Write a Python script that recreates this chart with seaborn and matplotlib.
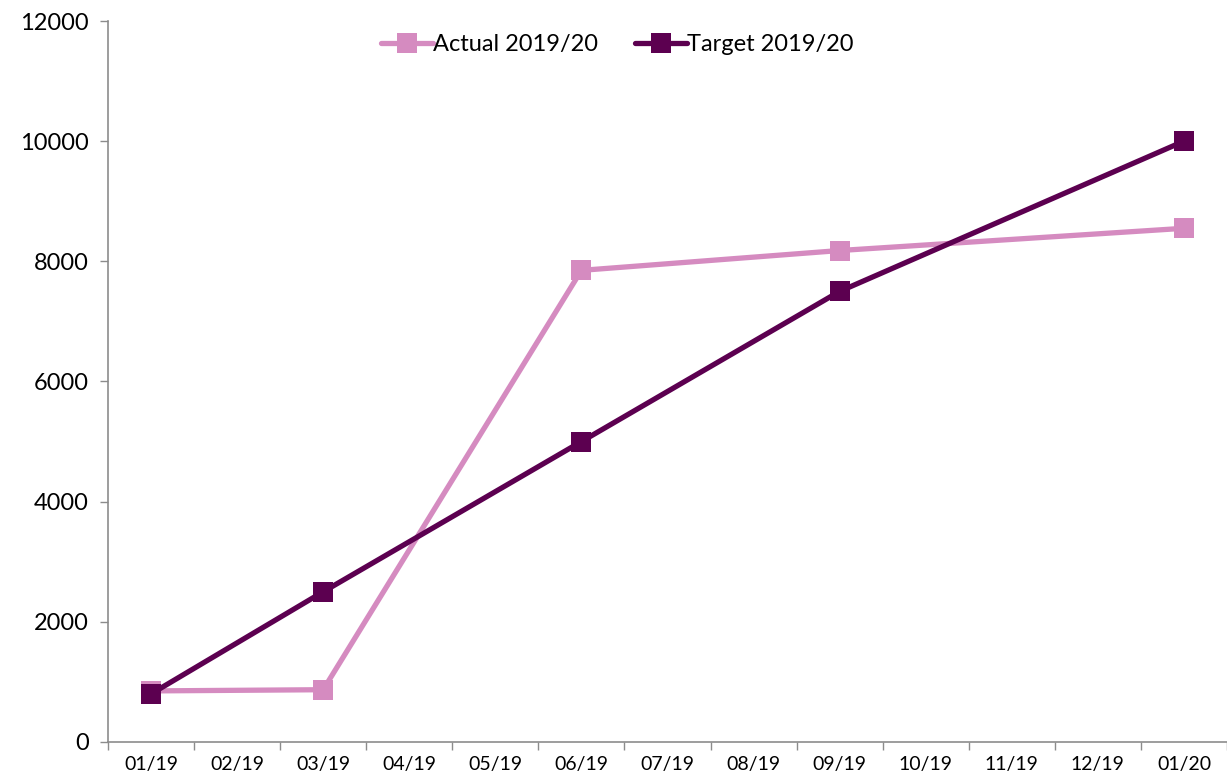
import numpy as np
import pandas as pd
import seaborn as sns
import matplotlib.pyplot as plt

months = ["01/19", "02/19", "03/19", "04/19", "05/19", "06/19", "07/19",
          "08/19", "09/19", "10/19", "11/19", "12/19", "01/20"]
data_months = ["01/19", "03/19", "06/19", "09/19", "01/20"]
actual = [850, 870, 7850, 8180, 8550]
target = [800, 2500, 5000, 7500, 10000]
series = ["Actual 2019/20", "Target 2019/20"]
colors = ["#D58BC0", "#5C0050"]

pos = [months.index(m) for m in data_months]
df = pd.DataFrame({
    "pos": pos * 2,
    "value": actual + target,
    "series": [series[0]] * len(actual) + [series[1]] * len(target),
})

sns.set_style("white")
plt.rcParams["font.family"] = ["Lato", "DejaVu Sans"]
plt.rcParams["text.color"] = "black"
plt.rcParams["xtick.labelcolor"] = "black"
plt.rcParams["ytick.labelcolor"] = "black"

fig = plt.figure(figsize=(12.27, 7.84), dpi=100)
ax = fig.add_axes([0.088, 0.0536, 0.912, 0.9196])

sns.lineplot(data=df, x="pos", y="value", hue="series", palette=colors,
             marker="s", markersize=14, markeredgewidth=0, linewidth=3.8,
             ax=ax, legend=False)

ax.set_xlim(-0.5, len(months) - 0.5)
ax.set_ylim(0, 12000)
ax.set_yticks(np.arange(0, 12001, 2000))
ax.tick_params(axis="y", labelsize=17, length=6, width=1, color="#8c8c8c",
               labelcolor="black", direction="out", left=True, pad=8)

# category-style x axis: ticks between categories, labels centred
ax.set_xticks(np.arange(-0.5, len(months), 1.0))
ax.set_xticklabels([])
ax.set_xticks(np.arange(len(months)), minor=True)
ax.set_xticklabels(months, minor=True)
ax.tick_params(axis="x", which="major", length=6, width=1, color="#8c8c8c",
               direction="out", bottom=True)
ax.tick_params(axis="x", which="minor", length=0, labelsize=14, pad=10,
               labelcolor="black")

for s in ["top", "right"]:
    ax.spines[s].set_visible(False)
for s in ["left", "bottom"]:
    ax.spines[s].set_color("#8c8c8c")
    ax.spines[s].set_linewidth(1.2)
ax.set_xlabel("")
ax.set_ylabel("")
ax.grid(False)

handles = [plt.Line2D([], [], color=c, marker="s", markersize=14,
                      markeredgewidth=0, linewidth=3.8) for c in colors]
fig.legend(handles, series, loc="center", bbox_to_anchor=(0.503, 0.943),
           ncol=2, frameon=False, fontsize=17, handlelength=2.2,
           handletextpad=0.0, columnspacing=1.6, numpoints=1)

fig.savefig("out.png", dpi=100)
